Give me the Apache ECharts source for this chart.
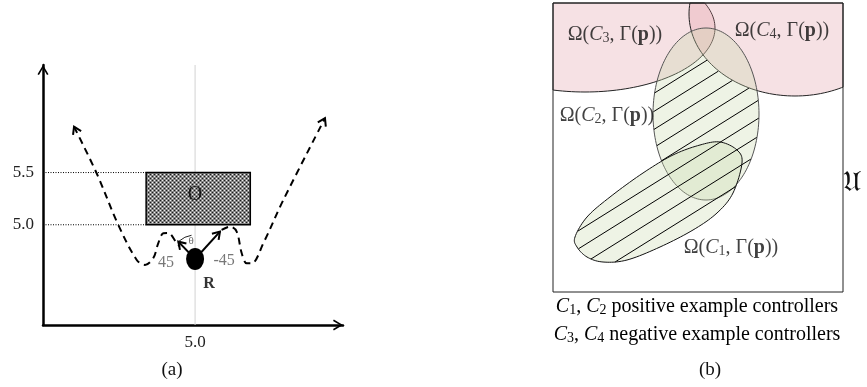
<!DOCTYPE html>
<html><head><meta charset="utf-8">
<script src="https://cdn.jsdelivr.net/npm/echarts@6/dist/echarts.min.js"></script>
<style>html,body{margin:0;padding:0;background:#fff}#c{width:867px;height:387px}</style>
</head><body><div id="c"></div><script>
// ================= Panel (a) data =================
const aXRange = [3.54, 6.42];
const aYRange = [4.04, 6.53];
const aXTicks = [5.0];
const aYTicks = [5.0, 5.5];
const obstacleX = [4.53, 5.53];
const obstacleY = [5.0, 5.5];
const robotPos = [5.0, 4.672];
const robotHeading = [[4.839, 4.838], [5.239, 4.934]];
const pathLeft = [[3.838,5.939],[4.055,5.493],[4.263,4.998],[4.440,4.663],[4.519,4.615],[4.599,4.682],[4.647,4.825],[4.695,4.918],[4.740,4.921],[4.824,4.825],[4.855,4.790]];
const pathRight = [[5.255,4.950],[5.335,4.982],[5.399,4.934],[5.447,4.730],[5.495,4.631],[5.543,4.631],[5.655,4.823],[5.847,5.237],[6.247,6.020]];
const aLabelText = ['O', 'R', '45', '-45'];
const aLabelPos = [[5.0, 5.285], [5.134, 4.433], [4.721, 4.634], [5.278, 4.653]];
const thetaLabelPos = [4.961, 4.845];

// ================= Panel (b) data (units ~ px inside the box, y up) =================
const bBox = [290, 289];
const c3Ellipse = [32, 264, 130, 64];   // cx, cy, rx, ry
const c4Ellipse = [242, 278, 106, 82];
const c2Ellipse = [153, 178, 53, 86];
const c1Outline = [[22,55],[34,75],[57,95],[90,119],[120,137],[147,147],[167,150],[184,142],[189,129],[180,99],[164,79],[140,62],[107,45],[74,32],[50,30],[34,35],[24,45]];
const hatchAngleDeg = 32;
const hatchSpacing = 15.3;
const hatchAnchor = [100, 180];
const bLabelIdx = ['3', '4', '2', '1'];
const bLabelPos = [[62, 257], [229, 261], [54, 176], [178, 44]];

const FONT = 'Liberation Serif';

// ---------- geometry helpers ----------
function ellipsePts(e, n) {
  const [cx, cy, rx, ry] = e; const pts = [];
  for (let i = 0; i < n; i++) { const t = 2 * Math.PI * i / n; pts.push([cx + rx * Math.cos(t), cy + ry * Math.sin(t)]); }
  return pts;
}
function catmull(P, seg) {
  const n = P.length, out = [];
  for (let i = 0; i < n; i++) {
    const p0 = P[(i - 1 + n) % n], p1 = P[i], p2 = P[(i + 1) % n], p3 = P[(i + 2) % n];
    for (let k = 0; k < seg; k++) {
      const t = k / seg, t2 = t * t, t3 = t2 * t;
      out.push([0, 1].map(j => 0.5 * ((2 * p1[j]) + (-p0[j] + p2[j]) * t + (2 * p0[j] - 5 * p1[j] + 4 * p2[j] - p3[j]) * t2 + (-p0[j] + 3 * p1[j] - 3 * p2[j] + p3[j]) * t3)));
    }
  }
  return out;
}
function clipBox(poly, W, H) {
  const inside = [p => p[0] >= 0, p => p[0] <= W, p => p[1] >= 0, p => p[1] <= H];
  const inter = [
    (a, b) => { const t = (0 - a[0]) / (b[0] - a[0]); return [0, a[1] + t * (b[1] - a[1])]; },
    (a, b) => { const t = (W - a[0]) / (b[0] - a[0]); return [W, a[1] + t * (b[1] - a[1])]; },
    (a, b) => { const t = (0 - a[1]) / (b[1] - a[1]); return [a[0] + t * (b[0] - a[0]), 0]; },
    (a, b) => { const t = (H - a[1]) / (b[1] - a[1]); return [a[0] + t * (b[0] - a[0]), H]; }
  ];
  let out = poly;
  for (let e = 0; e < 4; e++) {
    const inp = out; out = [];
    for (let i = 0; i < inp.length; i++) {
      const cur = inp[i], prev = inp[(i - 1 + inp.length) % inp.length];
      const ci = inside[e](cur), pi = inside[e](prev);
      if (ci) { if (!pi) out.push(inter[e](prev, cur)); out.push(cur); }
      else if (pi) out.push(inter[e](prev, cur));
    }
  }
  return out;
}
function inPoly(p, poly) {
  let c = false;
  for (let i = 0, j = poly.length - 1; i < poly.length; j = i++) {
    const a = poly[i], b = poly[j];
    if (((a[1] > p[1]) !== (b[1] > p[1])) && (p[0] < (b[0] - a[0]) * (p[1] - a[1]) / (b[1] - a[1]) + a[0])) c = !c;
  }
  return c;
}

const c3Poly = ellipsePts(c3Ellipse, 180), c4Poly = ellipsePts(c4Ellipse, 180);
const c2Poly = ellipsePts(c2Ellipse, 160), c1Poly = catmull(c1Outline, 10);
const [BW, BH] = bBox;
const c3Clip = clipBox(c3Poly, BW, BH), c4Clip = clipBox(c4Poly, BW, BH);

// hatch segments: (C1 ∪ C2) \ (C3 ∪ C4)
const th = hatchAngleDeg * Math.PI / 180, dv = [Math.cos(th), Math.sin(th)], nv = [-Math.sin(th), Math.cos(th)];
const hatch = [];
for (let k = -30; k <= 30; k++) {
  const base = [hatchAnchor[0] + nv[0] * k * hatchSpacing, hatchAnchor[1] + nv[1] * k * hatchSpacing];
  let run = null;
  for (let s = -450; s <= 450; s += 0.5) {
    const p = [base[0] + dv[0] * s, base[1] + dv[1] * s];
    const ok = p[0] >= 0 && p[0] <= BW && p[1] >= 0 && p[1] <= BH &&
      (inPoly(p, c1Poly) || inPoly(p, c2Poly)) && !inPoly(p, c3Poly) && !inPoly(p, c4Poly);
    if (ok) { if (!run) run = [p, p]; else run[1] = p; }
    else if (run) { hatch.push({ coords: run }); run = null; }
  }
  if (run) hatch.push({ coords: run });
}

// checker pattern for obstacle
function checker() {
  const cv = document.createElement('canvas'); cv.width = 4; cv.height = 4;
  const g = cv.getContext('2d');
  g.fillStyle = '#858585'; g.fillRect(0, 0, 4, 4);
  g.fillStyle = '#1a1a1a'; g.fillRect(0, 0, 1, 1); g.fillRect(2, 2, 1, 1);
  g.fillStyle = '#f0f0f0'; g.fillRect(2, 0, 1, 1); g.fillRect(0, 2, 1, 1);
  return cv;
}
const checkerCanvas = checker();

const chevron = 'path://M0,10 L6,0 L12,10 L10.4,10.9 L6,3.4 L1.6,10.9 Z';

function polyShape(api, poly, style, z) {
  return { type: 'polygon', shape: { points: poly.map(p => api.coord(p)) }, style: style, z2: z || 0 };
}
function arrowRender(params, api) {
  const p0 = api.coord([api.value(0), api.value(1)]), p1 = api.coord([api.value(2), api.value(3)]);
  const shaft = api.value(4);
  const dx = p1[0] - p0[0], dy = p1[1] - p0[1], L = Math.hypot(dx, dy), ux = dx / L, uy = dy / L;
  const hl = 7, hw = 4.5;
  const b = [p1[0] - ux * hl, p1[1] - uy * hl];
  const h1 = [b[0] - uy * hw, b[1] + ux * hw], h2 = [b[0] + uy * hw, b[1] - ux * hw];
  const children = [];
  if (shaft) children.push({ type: 'line', shape: { x1: p0[0], y1: p0[1], x2: p1[0], y2: p1[1] }, style: { stroke: '#000', lineWidth: 2 } });
  children.push({ type: 'polyline', shape: { points: [h1, p1, h2] }, style: { stroke: '#000', lineWidth: 2, fill: null } });
  return { type: 'group', children };
}

const omega = k => '{n|Ω(}{i|C}{s|' + k + '}{n|, Γ(}{b|p}{n|))}';
const mathRich = {
  n: { fontFamily: FONT, fontSize: 20, color: '#111' },
  i: { fontFamily: FONT, fontSize: 20, fontStyle: 'italic', color: '#111' },
  b: { fontFamily: FONT, fontSize: 20, fontWeight: 'bold', color: '#111' },
  s: { fontFamily: FONT, fontSize: 14, color: '#111', verticalAlign: 'bottom', padding: [7, 0, 0, 0] }
};

const chart = echarts.init(document.getElementById('c'));
const option = {
  animation: false,
  grid: [
    { left: 43, top: 65, width: 300, height: 260, show: false },
    { left: 553, top: 3, width: 290, height: 289, show: false }
  ],
  xAxis: [
    { gridIndex: 0, type: 'value', min: aXRange[0], max: aXRange[1],
      axisLine: { show: true, onZero: false, lineStyle: { color: '#000', width: 2.5 }, symbol: ['none', chevron], symbolSize: [11, 10], symbolOffset: [0, -5] },
      axisTick: { show: false }, splitLine: { show: false },
      axisLabel: { customValues: aXTicks, formatter: v => v.toFixed(1), fontFamily: FONT, fontSize: 17, color: '#222', margin: 9 } },
    { gridIndex: 1, type: 'value', min: 0, max: BW, show: false }
  ],
  yAxis: [
    { gridIndex: 0, type: 'value', min: aYRange[0], max: aYRange[1],
      axisLine: { show: true, onZero: false, lineStyle: { color: '#000', width: 2.5 }, symbol: ['none', chevron], symbolSize: [11, 10], symbolOffset: [0, -5] },
      axisTick: { show: false }, splitLine: { show: false },
      axisLabel: { customValues: aYTicks, formatter: v => v.toFixed(1), fontFamily: FONT, fontSize: 17, color: '#222', margin: 9 } },
    { gridIndex: 1, type: 'value', min: 0, max: BH, show: false }
  ],
  series: [
    // ---- panel (a) ----
    { type: 'line', xAxisIndex: 0, yAxisIndex: 0, data: [[aXTicks[0], aYRange[0]], [aXTicks[0], aYRange[1]]], symbol: 'none', lineStyle: { color: '#d2d2d2', width: 1 }, z: 1 },
    { type: 'line', xAxisIndex: 0, yAxisIndex: 0, data: [[aXRange[0], aYTicks[1]], [obstacleX[0], aYTicks[1]]], symbol: 'none', lineStyle: { color: '#000', width: 1, type: [1, 1.5] }, z: 2 },
    { type: 'line', xAxisIndex: 0, yAxisIndex: 0, data: [[aXRange[0], aYTicks[0]], [obstacleX[0], aYTicks[0]]], symbol: 'none', lineStyle: { color: '#000', width: 1, type: [1, 1.5] }, z: 2 },
    { type: 'custom', xAxisIndex: 0, yAxisIndex: 0, z: 3,
      data: [[obstacleX[0], obstacleY[0], obstacleX[1], obstacleY[1]]],
      renderItem: (params, api) => {
        const a = api.coord([api.value(0), api.value(3)]), b = api.coord([api.value(2), api.value(1)]);
        return { type: 'rect', shape: { x: a[0], y: a[1], width: b[0] - a[0], height: b[1] - a[1] },
          style: { fill: { image: checkerCanvas, repeat: 'repeat' }, stroke: '#000', lineWidth: 1.5 } };
      } },
    { type: 'line', xAxisIndex: 0, yAxisIndex: 0, data: pathLeft, smooth: 0.35, symbol: 'none', lineStyle: { color: '#000', width: 2, type: [7, 5] }, z: 4 },
    { type: 'line', xAxisIndex: 0, yAxisIndex: 0, data: pathRight, smooth: 0.35, symbol: 'none', lineStyle: { color: '#000', width: 2, type: [7, 5] }, z: 4 },
    { type: 'custom', xAxisIndex: 0, yAxisIndex: 0, z: 5, renderItem: arrowRender,
      data: [pathLeft[1].concat(pathLeft[0], [0]), pathRight[pathRight.length - 2].concat(pathRight[pathRight.length - 1], [0])]
        .concat(robotHeading.map(t => [robotPos[0], robotPos[1], t[0], t[1], 1])) },
    { type: 'scatter', xAxisIndex: 0, yAxisIndex: 0, z: 6, data: [robotPos], symbol: 'circle', symbolSize: [18, 22], itemStyle: { color: '#000', opacity: 1 } },
    { type: 'custom', xAxisIndex: 0, yAxisIndex: 0, z: 6, data: [robotPos],
      renderItem: (params, api) => {
        const c = api.coord([api.value(0), api.value(1)]);
        return { type: 'arc', shape: { cx: c[0], cy: c[1], r: 24, startAngle: -2.3, endAngle: -1.72 }, style: { stroke: '#222', lineWidth: 1, fill: null } };
      } },
    { type: 'scatter', xAxisIndex: 0, yAxisIndex: 0, z: 7, symbolSize: 0,
      data: aLabelPos.map((p, i) => ({ value: p, name: aLabelText[i] })),
      label: { show: true, position: 'inside', formatter: p => p.dataIndex === 0 ? '{o|O}' : p.dataIndex === 1 ? '{r|R}' : '{g|' + p.name + '}',
        rich: { o: { fontFamily: FONT, fontSize: 20, color: '#000' }, r: { fontFamily: FONT, fontSize: 16, fontWeight: 'bold', color: '#000' }, g: { fontFamily: FONT, fontSize: 16, color: '#555' } } } },
    { type: 'scatter', xAxisIndex: 0, yAxisIndex: 0, z: 7, symbolSize: 0, data: [thetaLabelPos],
      label: { show: true, position: 'inside', formatter: 'θ', fontFamily: FONT, fontSize: 11, color: '#444' } },
    // ---- panel (b) ----
    { type: 'custom', xAxisIndex: 1, yAxisIndex: 1, z: 2, data: [[0, 0]],
      renderItem: (params, api) => ({ type: 'group', children: [
        polyShape(api, c3Clip, { fill: 'rgba(220,140,150,0.26)', stroke: '#222', lineWidth: 1 }),
        polyShape(api, c4Clip, { fill: 'rgba(220,140,150,0.26)', stroke: '#222', lineWidth: 1 })
      ] }) },
    { type: 'custom', xAxisIndex: 1, yAxisIndex: 1, z: 3, data: [[0, 0]],
      renderItem: (params, api) => ({ type: 'group', children: [
        polyShape(api, c2Poly, { fill: 'rgba(200,215,170,0.30)', stroke: '#555', lineWidth: 1 }),
        polyShape(api, c1Poly, { fill: 'rgba(200,215,170,0.30)', stroke: '#111', lineWidth: 1 })
      ] }) },
    { type: 'lines', coordinateSystem: 'cartesian2d', xAxisIndex: 1, yAxisIndex: 1, z: 4, data: hatch, lineStyle: { color: '#000', width: 1, opacity: 1 }, silent: true },
    { type: 'custom', xAxisIndex: 1, yAxisIndex: 1, z: 5, data: [[0, 0]],
      renderItem: (params, api) => {
        const a = api.coord([0, BH]), b = api.coord([BW, 0]);
        return { type: 'rect', shape: { x: a[0], y: a[1], width: b[0] - a[0], height: b[1] - a[1] }, style: { fill: null, stroke: '#222', lineWidth: 1 } };
      } },
    { type: 'scatter', xAxisIndex: 1, yAxisIndex: 1, z: 6, symbolSize: 0,
      data: bLabelPos.map((p, i) => ({ value: p, name: bLabelIdx[i] })),
      label: { show: true, position: 'inside', formatter: p => omega(p.name), rich: mathRich } }
  ],
  graphic: [
    { type: 'text', x: 172, y: 370, style: { text: '(a)', font: '19px "' + FONT + '"', fill: '#111', textAlign: 'center', textVerticalAlign: 'middle' } },
    { type: 'text', x: 710, y: 370, style: { text: '(b)', font: '19px "' + FONT + '"', fill: '#111', textAlign: 'center', textVerticalAlign: 'middle' } },
    { type: 'text', x: 697, y: 307, style: { text: '{i|C}{s|1}{n|, }{i|C}{s|2}{n| positive example controllers}', rich: mathRich, textAlign: 'center', textVerticalAlign: 'middle' } },
    { type: 'text', x: 697, y: 335, style: { text: '{i|C}{s|3}{n|, }{i|C}{s|4}{n| negative example controllers}', rich: mathRich, textAlign: 'center', textVerticalAlign: 'middle' } },
    { type: 'text', x: 852, y: 184, style: { text: '𝔘', font: '28px "DejaVu Serif"', fill: '#111', textAlign: 'center', textVerticalAlign: 'middle' } }
  ]
};
chart.setOption(option);
</script></body></html>
